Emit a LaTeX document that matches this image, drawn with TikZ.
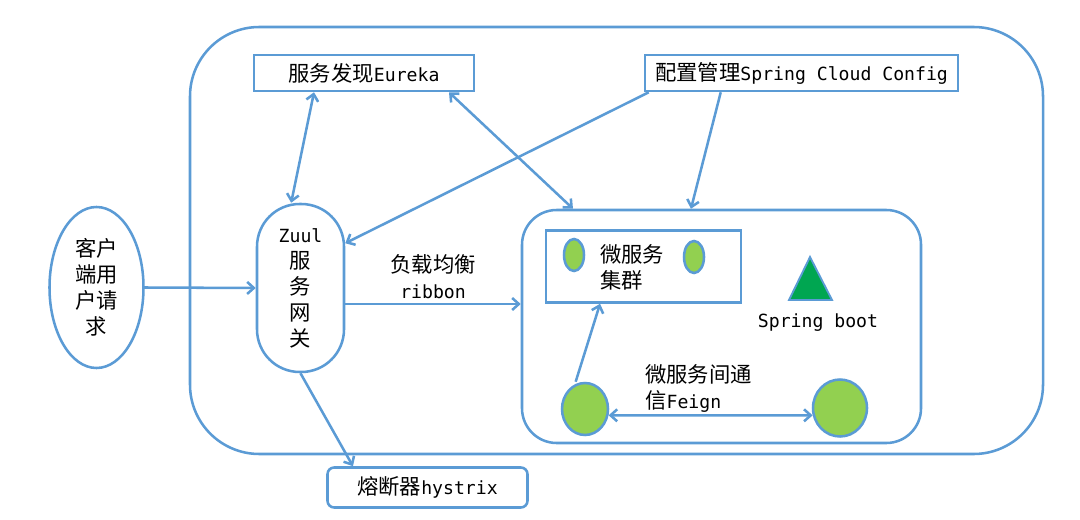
\documentclass[tikz,border=0pt]{standalone}
\usepackage{fontspec}
\setmainfont{Noto Sans CJK SC}
\newfontfamily\latinfont{DejaVu Sans Mono}[Scale=0.85]
\newcommand{\lat}[1]{{\latinfont #1}}
\usetikzlibrary{arrows.meta,shapes.geometric}
\definecolor{lineblue}{RGB}{91,155,213}
\definecolor{cellgreen}{RGB}{146,208,80}
\definecolor{bootgreen}{RGB}{0,166,81}

\begin{document}
\begin{tikzpicture}[x=0.75pt,y=-0.75pt,
    every node/.style={font=\fontsize{16pt}{19.5pt}\selectfont},
    blueline/.style={draw=lineblue,line width=1.9pt},
    frame/.style={blueline,rectangle,inner sep=0pt},
    cell/.style={blueline,ellipse,fill=cellgreen,inner sep=0pt},
    link/.style={draw=lineblue,line width=1.9pt,-{Straight Barb[length=5pt,width=9pt]}},
    twoway/.style={link,{Straight Barb[length=5pt,width=9pt]}-{Straight Barb[length=5pt,width=9pt]}}]

  \useasboundingbox (0,0) rectangle (1080,520);

  % Frames
  \node[frame,rounded corners=52pt,minimum width=639.75pt,minimum height=320.25pt] (outer) at (616.5,240.5) {};
  \node[frame,rounded corners=26pt,minimum width=299.25pt,minimum height=174.75pt] (inner) at (721.5,326.5) {};

  % Services
  \node[frame,minimum width=165pt,minimum height=27pt] (eureka) at (364,73) {服务发现\lat{Eureka}};
  \node[frame,minimum width=234.75pt,minimum height=27pt] (config) at (801.5,73) {配置管理\lat{Spring Cloud Config}};
  \node[blueline,ellipse,inner sep=0pt,minimum width=70.5pt,minimum height=120.75pt,align=center] (client) at (96.5,287.5) {客户\\端用\\户请\\求};
  \node[frame,rounded corners=32pt,minimum width=65.25pt,minimum height=126pt,align=center] (zuul) at (300.5,288) {\lat{Zuul}\\服\\务\\网\\关};
  \node[frame,rounded corners=5pt,minimum width=150pt,minimum height=30pt] (hystrix) at (427.5,487.5) {熔断器\lat{hystrix}};

  % Inside the microservice frame
  \node[frame,minimum width=146.25pt,minimum height=54pt] (cluster) at (643.5,266.5) {};
  \node[anchor=west,align=left,inner sep=0pt] (clustertext) at (600,267.5) {微服务\\集群};
  \node[cell,minimum width=15pt,minimum height=24pt] (cellA) at (574,255) {};
  \node[cell,minimum width=15pt,minimum height=24pt] (cellB) at (694,257) {};
  \draw[draw=lineblue,line width=1.4pt,fill=bootgreen] (810,257) -- (789,300) -- (832,300) -- cycle;
  \node (boot) at (818,323) {\lat{Spring boot}};
  \node[cell,minimum width=34.5pt,minimum height=39pt] (circL) at (585,409) {};
  \node[cell,minimum width=40.5pt,minimum height=42.75pt] (circR) at (840,408) {};
  \node[anchor=west,align=left,inner sep=0pt] (feign) at (645,388) {微服务间通\\信\lat{Feign}};

  % Arrows
  \draw[link] (client.east) -- (zuul.west);
  \draw[link] ([yshift=-12pt]zuul.east) -- ([yshift=-12pt]zuul.east -| inner.west)
    node[midway,above,align=center,text=black] (ribbon) {负载均衡\\\lat{ribbon}};
  \draw[link] (zuul.south) -- ([xshift=-55.9pt]hystrix.north);
  \draw[twoway] ([xshift=-37.5pt]eureka.south) -- ([xshift=-7pt]zuul.north);
  \draw[twoway] ([xshift=63.75pt]eureka.south) -- ([xshift=-111.4pt]inner.north);
  \draw[link] ([xshift=3.75pt]config.south west) -- (zuul.45);
  \draw[link] ([xshift=57.75pt]config.south west) -- ([xshift=-22.9pt]inner.north);
  \draw[link] ([xshift=-7pt]circL.north) -- ([xshift=-32.6pt]cluster.south);
  \draw[twoway] (circL.-15) -- (circR.195);
\end{tikzpicture}
\end{document}
